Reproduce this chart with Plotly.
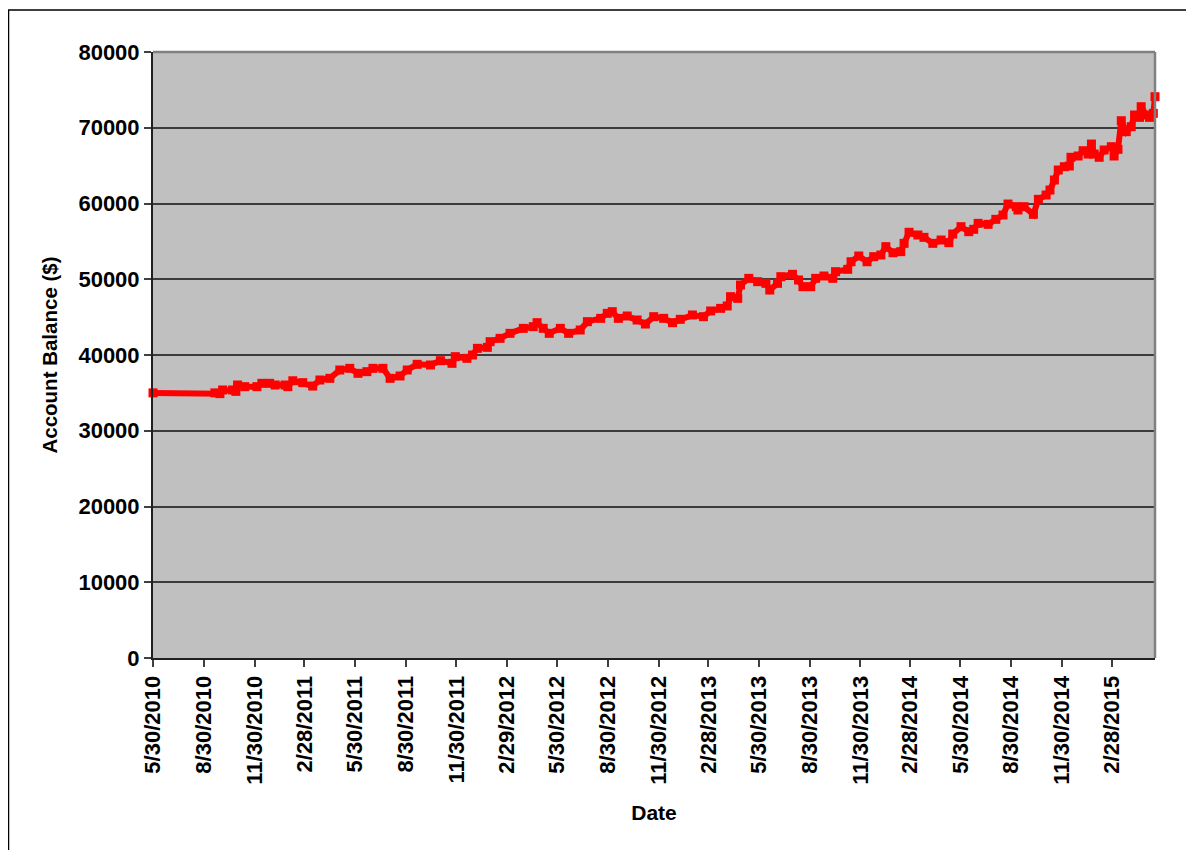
import plotly.graph_objects as go

dates = [
    "2010-05-30", "2010-09-19", "2010-09-28", "2010-10-03", "2010-10-21", "2010-10-27", "2010-10-30",
    "2010-11-12", "2010-12-04", "2010-12-13", "2010-12-27", "2011-01-06", "2011-01-24", "2011-01-29",
    "2011-02-07", "2011-02-25", "2011-03-15", "2011-03-28", "2011-04-15", "2011-05-03", "2011-05-21",
    "2011-06-05", "2011-06-21", "2011-07-02", "2011-07-20", "2011-08-02", "2011-08-20", "2011-09-02",
    "2011-09-20", "2011-10-14", "2011-11-01", "2011-11-22", "2011-11-28", "2011-12-19", "2011-12-29",
    "2012-01-07", "2012-01-25", "2012-01-30", "2012-02-17", "2012-03-06", "2012-03-30", "2012-04-17",
    "2012-04-24", "2012-05-05", "2012-05-16", "2012-06-05", "2012-06-20", "2012-07-11", "2012-07-24",
    "2012-08-17", "2012-08-29", "2012-09-07", "2012-09-18", "2012-10-04", "2012-10-22", "2012-11-06",
    "2012-11-21", "2012-12-09", "2012-12-25", "2013-01-08", "2013-01-30", "2013-02-19", "2013-03-04",
    "2013-03-22", "2013-04-03", "2013-04-09", "2013-04-22", "2013-04-27", "2013-05-12", "2013-05-28",
    "2013-06-12", "2013-06-19", "2013-07-03", "2013-07-09", "2013-07-30", "2013-08-10", "2013-08-18",
    "2013-09-01", "2013-09-10", "2013-09-25", "2013-10-11", "2013-10-16", "2013-11-07", "2013-11-13",
    "2013-11-27", "2013-12-12", "2013-12-24", "2014-01-06", "2014-01-15", "2014-01-28", "2014-02-11",
    "2014-02-17", "2014-02-26", "2014-03-14", "2014-03-25", "2014-04-10", "2014-04-25", "2014-05-09",
    "2014-05-16", "2014-05-31", "2014-06-14", "2014-06-23", "2014-07-01", "2014-07-19", "2014-08-02",
    "2014-08-15", "2014-08-24", "2014-09-08", "2014-09-11", "2014-09-22", "2014-10-09", "2014-10-18",
    "2014-11-01", "2014-11-08", "2014-11-16", "2014-11-23", "2014-12-04", "2014-12-13", "2014-12-16",
    "2014-12-29", "2015-01-07", "2015-01-16", "2015-01-22", "2015-01-27", "2015-02-05", "2015-02-14",
    "2015-02-27", "2015-03-04", "2015-03-11", "2015-03-17", "2015-03-26", "2015-04-04", "2015-04-10",
    "2015-04-19", "2015-04-22", "2015-05-01", "2015-05-07", "2015-05-14", "2015-05-17",
]

balance = [
    35000, 35000, 34900, 35380, 35380, 35200, 36040,
    35820, 35820, 36260, 36260, 36040, 36040, 35820,
    36600, 36350, 35900, 36700, 36920, 38020, 38240,
    37580, 37800, 38240, 38240, 36920, 37230, 38020,
    38770, 38680, 39250, 38900, 39780, 39560, 40000,
    40880, 41010, 41760, 42200, 42860, 43520, 43740,
    44270, 43520, 42860, 43520, 42860, 43300, 44400,
    44840, 45500, 45720, 44840, 45150, 44620, 44090,
    45060, 44840, 44270, 44710, 45280, 45060, 45810,
    46160, 46470, 47700, 47480, 49240, 50120, 49680,
    49460, 48580, 49460, 50340, 50650, 49900, 49020,
    49020, 50120, 50430, 50120, 51000, 51310, 52310,
    53070, 52310, 52980, 53200, 54300, 53500, 53640,
    54740, 56200, 55840, 55530, 54740, 55180, 54830,
    55970, 56940, 56280, 56590, 57380, 57250, 57910,
    58480, 59930, 59580, 59140, 59580, 58570, 60550,
    61120, 61780, 63100, 64420, 64860, 64950, 66100,
    66270, 66970, 66530, 67850, 66530, 66100, 67060,
    67500, 66270, 67150, 70930, 69480, 70140, 71680,
    71370, 72780, 71680, 71370, 71900, 74100,
]

tick_dates = [
    "2010-05-30", "2010-08-30", "2010-11-30", "2011-02-28", "2011-05-30", "2011-08-30", "2011-11-30",
    "2012-02-29", "2012-05-30", "2012-08-30", "2012-11-30", "2013-02-28", "2013-05-30", "2013-08-30",
    "2013-11-30", "2014-02-28", "2014-05-30", "2014-08-30", "2014-11-30", "2015-02-28",
]
tick_labels = [
    "5/30/2010", "8/30/2010", "11/30/2010", "2/28/2011", "5/30/2011", "8/30/2011", "11/30/2011",
    "2/29/2012", "5/30/2012", "8/30/2012", "11/30/2012", "2/28/2013", "5/30/2013", "8/30/2013",
    "11/30/2013", "2/28/2014", "5/30/2014", "8/30/2014", "11/30/2014", "2/28/2015",
]
y_ticks = [0, 10000, 20000, 30000, 40000, 50000, 60000, 70000, 80000]

FONT = "Liberation Sans, Arial, sans-serif"

fig = go.Figure()
fig.add_trace(go.Scatter(
    x=dates, y=balance, mode="lines+markers",
    line=dict(color="#FF0000", width=6),
    marker=dict(symbol="square", size=9, color="#FF0000"),
    showlegend=False, cliponaxis=False,
))

fig.update_layout(
    width=1186, height=842,
    margin=dict(l=145, r=39, t=44, b=192),
    paper_bgcolor="white",
    plot_bgcolor="#C0C0C0",
    font=dict(family=FONT, color="black", size=20, weight="bold"),
    xaxis=dict(
        type="date",
        range=["2010-05-30", "2015-05-17"],
        tickmode="array", tickvals=tick_dates, ticktext=tick_labels,
        tickangle=-90,
        tickfont=dict(family=FONT, size=22, color="black", weight="bold"),
        ticks="outside", ticklen=7, tickwidth=2, tickcolor="#404040",
        showgrid=False, zeroline=False,
        showline=True, linecolor="#202020", linewidth=2,
        title=dict(text="Date", font=dict(family=FONT, size=21, color="black", weight="bold"), standoff=22),
        mirror=False,
    ),
    yaxis=dict(
        range=[0, 80000],
        tickmode="array", tickvals=y_ticks, ticktext=[str(v) for v in y_ticks],
        tickfont=dict(family=FONT, size=22, color="black", weight="bold"),
        ticks="outside", ticklen=7, tickwidth=2, tickcolor="#404040",
        showgrid=True, gridcolor="#3C3C3C", gridwidth=1.5,
        zeroline=False,
        showline=True, linecolor="#202020", linewidth=2,
        title=dict(text="Account Balance ($)", font=dict(family=FONT, size=20.5, color="black", weight="bold"), standoff=15),
    ),
    shapes=[
        dict(type="line", xref="paper", yref="paper", x0=0, x1=1, y0=1, y1=1,
             line=dict(color="#808080", width=2.5)),
        dict(type="line", xref="paper", yref="paper", x0=1, x1=1, y0=0, y1=1,
             line=dict(color="#808080", width=2.5)),
        dict(type="rect", xref="paper", yref="paper", x0=-0.1442, x1=1.2, y0=-0.5, y1=1.0693,
             line=dict(color="black", width=1.5), layer="below"),
    ],
)

fig.write_html("out.html")
